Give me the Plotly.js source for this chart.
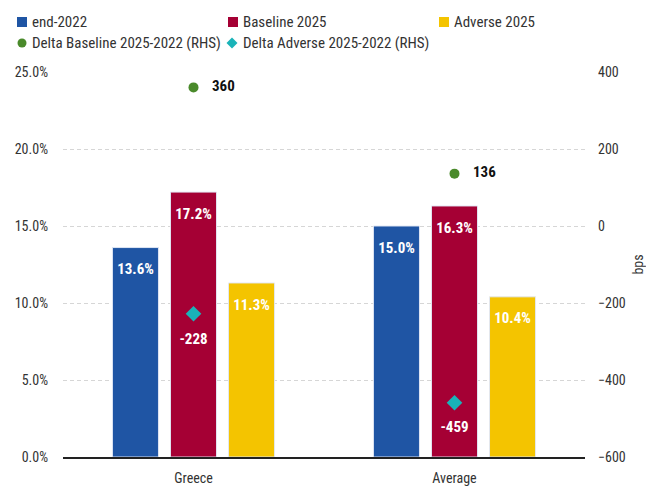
<!DOCTYPE html>
<html>
<head>
<meta charset="utf-8">
<script src="https://cdn.plot.ly/plotly-3.0.1.min.js"></script>
<style>html,body{margin:0;padding:0;background:#fff;}#chart{width:646px;height:488px;}
#chart text{font-stretch:condensed;}</style>
</head>
<body>
<div id="chart"></div>
<script>
const categories = ["Greece", "Average"];
const end2022 = [13.6, 15.0];
const baseline2025 = [17.2, 16.3];
const adverse2025 = [11.3, 10.4];
const deltaBaseline = [360, 136];
const deltaAdverse = [-228, -459];
const leftTicks = [0, 5, 10, 15, 20, 25];
const rightTicks = [-600, -400, -200, 0, 200, 400];
const seriesNames = ["end-2022", "Baseline 2025", "Adverse 2025",
                     "Delta Baseline 2025-2022 (RHS)", "Delta Adverse 2025-2022 (RHS)"];

const FONT = '"Roboto Condensed", "DejaVu Sans Condensed", "DejaVu Sans", sans-serif';
const COLORS = ['#1f55a4', '#a50034', '#f4c400', '#4a8a2b', '#1ab3b8'];
const barLine = {color: 'rgba(225,232,244,0.95)', width: 1};

function barTrace(i, vals) {
  return {type: 'bar', name: seriesNames[i], x: categories, y: vals, offsetgroup: 'g' + i,
   marker: {color: COLORS[i], line: barLine}, hoverinfo: 'none'};
}
function barLabelTrace(i, vals) {
  // value labels inside the top of each bar; transparent spacer marker sets the offset
  return {type: 'scatter', mode: 'markers+text', showlegend: false, x: categories, y: vals,
   offsetgroup: 'g' + i, marker: {size: 23, color: 'rgba(0,0,0,0)'},
   text: vals.map(v => '<b>' + v.toFixed(1) + '%</b>'), textposition: 'bottom center',
   textfont: {color: '#ffffff', size: 15, family: FONT}, hoverinfo: 'none'};
}

const traces = [
  barTrace(0, end2022),
  barTrace(1, baseline2025),
  barTrace(2, adverse2025),
  barLabelTrace(0, end2022),
  barLabelTrace(1, baseline2025),
  barLabelTrace(2, adverse2025),
  // delta markers (centred on the category, i.e. the middle slot)
  {type: 'scatter', mode: 'markers', name: seriesNames[3], offsetgroup: 'g1',
   x: categories, y: deltaBaseline, yaxis: 'y2',
   marker: {symbol: 'circle', size: 10, color: COLORS[3]}, hoverinfo: 'none'},
  {type: 'scatter', mode: 'markers', name: seriesNames[4], offsetgroup: 'g1',
   x: categories, y: deltaAdverse, yaxis: 'y2',
   marker: {symbol: 'diamond', size: 12, color: COLORS[4]}, hoverinfo: 'none'},
  // delta value labels
  {type: 'scatter', mode: 'markers+text', showlegend: false, offsetgroup: 'g1',
   x: categories, y: deltaBaseline, yaxis: 'y2',
   marker: {size: 28, color: 'rgba(0,0,0,0)'},
   text: deltaBaseline.map(v => '<b>' + v + '</b>'), textposition: 'middle right',
   textfont: {color: '#111111', size: 15, family: FONT}, hoverinfo: 'none'},
  {type: 'scatter', mode: 'markers+text', showlegend: false, offsetgroup: 'g1',
   x: categories, y: deltaAdverse, yaxis: 'y2',
   marker: {size: 28, color: 'rgba(0,0,0,0)'},
   text: deltaAdverse.map(v => '<b>' + v + '</b>'), textposition: 'bottom center',
   textfont: {color: '#ffffff', size: 15, family: FONT}, hoverinfo: 'none'}
];

// Custom legend (swatches + labels) placed in paper coordinates
const PL = 63, PW = 522, PT = 72, PH = 385;
const px = v => (v - PL) / PW;
const py = v => (PT + PH - v) / PH;
const legendItems = [
  {i: 0, sym: 'square', cx: 22, cy: 22, tx: 30},
  {i: 1, sym: 'square', cx: 233, cy: 22, tx: 241},
  {i: 2, sym: 'square', cx: 444, cy: 22, tx: 452},
  {i: 3, sym: 'circle', cx: 22, cy: 43, tx: 30},
  {i: 4, sym: 'diamond', cx: 232, cy: 43, tx: 241}
];
const shapes = [];
const annotations = [];
legendItems.forEach(it => {
  const c = COLORS[it.i];
  if (it.sym === 'square') {
    shapes.push({type: 'rect', xref: 'paper', yref: 'paper', x0: px(it.cx - 5), x1: px(it.cx + 5),
                 y0: py(it.cy + 5), y1: py(it.cy - 5), fillcolor: c, line: {width: 0}});
  } else if (it.sym === 'circle') {
    shapes.push({type: 'circle', xref: 'paper', yref: 'paper', x0: px(it.cx - 4.5), x1: px(it.cx + 4.5),
                 y0: py(it.cy + 4.5), y1: py(it.cy - 4.5), fillcolor: c, line: {width: 0}});
  } else {
    const d = 5.5;
    shapes.push({type: 'path', xref: 'paper', yref: 'paper',
      path: `M ${px(it.cx)} ${py(it.cy - d)} L ${px(it.cx + d)} ${py(it.cy)} L ${px(it.cx)} ${py(it.cy + d)} L ${px(it.cx - d)} ${py(it.cy)} Z`,
      fillcolor: c, line: {width: 0}});
  }
  annotations.push({xref: 'paper', yref: 'paper', x: px(it.tx), y: py(it.cy), xanchor: 'left', yanchor: 'middle',
    text: seriesNames[it.i], showarrow: false, font: {size: 15, color: '#333333', family: FONT}});
});

const layout = {
  width: 646, height: 488,
  margin: {l: PL, r: 646 - PL - PW, t: PT, b: 488 - PT - PH, pad: 0},
  paper_bgcolor: '#ffffff', plot_bgcolor: '#ffffff',
  font: {family: FONT, size: 14, color: '#333333'},
  barmode: 'group', bargap: 0.333, bargroupgap: 0.207,
  scattermode: 'group', scattergap: 0.333,
  showlegend: false,
  shapes: shapes, annotations: annotations,
  xaxis: {type: 'category', range: [-0.5, 1.5], showline: true, linecolor: '#222222', linewidth: 1.5,
          ticks: '', showgrid: false, ticklabelstandoff: 8, tickfont: {size: 14, color: '#333333'}},
  yaxis: {range: [0, 25], tickvals: leftTicks, ticktext: leftTicks.map(v => v.toFixed(1) + '%'),
          showgrid: true, gridcolor: '#d6d6d6', griddash: '4px,3px', gridwidth: 1,
          zeroline: false, showline: false, ticks: '', ticklabelstandoff: 14,
          tickfont: {size: 14, color: '#333333'}},
  yaxis2: {overlaying: 'y', side: 'right', range: [-600, 400], tickvals: rightTicks,
           showgrid: false, zeroline: false, showline: false, ticks: '', ticklabelstandoff: 12,
           title: {text: 'bps', font: {size: 14, color: '#333333'}, standoff: 10},
           tickfont: {size: 14, color: '#333333'}}
};

Plotly.newPlot('chart', traces, layout, {displayModeBar: false, staticPlot: true});
</script>
</body>
</html>
